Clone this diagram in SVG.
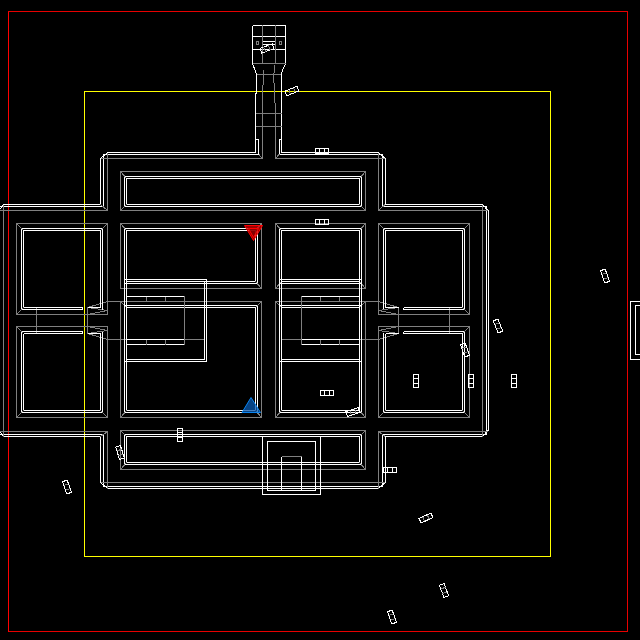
<svg xmlns="http://www.w3.org/2000/svg" width="640" height="640" viewBox="0 0 640 640" shape-rendering="crispEdges">
<style>
.w{fill:none;stroke:#fff;stroke-width:1}
.g{fill:none;stroke:#808080;stroke-width:1}
</style>
<defs>
<g id="car"><rect class="w" x="-2.500" y="-6.500" width="5" height="13"/><path class="w" d="M-2.500-2.500H2.500M-2.500 2.500H2.500"/></g>
<g id="car-r"><rect class="w" x="-2.500" y="-6.500" width="5" height="13"/><path class="g" d="M-2.500-2.500H2.500M-2.500 2.500H2.500"/></g>
</defs>
<rect width="640" height="640" fill="#000"/>
<g id="bounds">
<path d="M8.500 631.500V11.500H627.500V631.500H8.500" fill="none" stroke="#e80000"/>
<path d="M8.500 631.500V11.500" fill="none" stroke="#f00"/>
<rect x="84.500" y="91.500" width="466" height="465" fill="none" stroke="#ff0"/>
</g>
<g id="connectors">
<g id="tower">
<path class="w" d="M252.500 25.500H285.500V63.500L281 74V93.500H281.500V152.500M252.500 25.500V63.500L256.500 74V93.500H255.500V152.500"/>
<path class="w" d="M252.500 36.500H285.500M252.500 49.500H285.500M262.500 41.500H275.500M262.500 44.500H275.500"/>
<path class="w" d="M255.500 139.500H258.500V154M281.500 139.500H279.500V154"/>
<path class="g" d="M252.500 63.500H285.500M256.500 74H281M255.500 113.500H281.500M255.500 126.500H281.500M262.500 25V63M263.500 70V85M262.500 85V158.500M258.500 154L262.500 158.500M275.500 25V63M274.500 65V73M273.500 73V83M274.500 83V103M275.500 103V158.500M279.500 154L275.500 158.500"/>
<rect class="g" x="256.500" y="41.500" width="2" height="3"/>
<rect class="g" x="279.500" y="41.500" width="2" height="3"/>
</g>
<g id="walls">
<path class="w" d="M3.500 204.500H100.500V158.500L107.500 152.500H255.500M281.500 152.500H378.500L385 158.500V204.500H482.500L488 210.500V430.500L482.500 436.500H385V482.500L378.500 488.500H107.500L100.500 482.500V436.500H3.500L0 431.500M3.500 204.500L0 209"/>
<path class="w" d="M0 206.500H103.500V154.500H258.500M279.500 154.500H382.500V206.500H486.500V434.500H382.500V486.500H103.500V434.500H0"/>
<path class="g" d="M3.500 204.500V436.500M0 210.500H107.500V152.500M100.500 158.500H262.500M275.500 158.500H385M378.500 152.500V210.500H488M482.500 204.500V436.500M0 431.500H107.500V488.500M100.500 482.500H385M378.500 488.500V431.500H488M107.500 210.500L100.500 204.500M378.500 210.500L385 204.500M107.500 431.500L100.500 436.500M378.500 431.500L385 436.500"/>
</g>
<g id="passages">
<path class="g" d="M36.500 307V333M87.500 307V333M87.500 307.500L107.500 301.500M87.500 307.500L107.500 310.500M87.500 314.500L107.500 310.500M87.500 326.500L107.500 330.500M87.500 333.500L107.500 330.500M87.500 333.500L107.500 339.500H204"/>
<path class="g" d="M449.500 307V333M398.500 307V333M398.500 307.500L378.500 301.500M398.500 307.500L378.500 310.500M398.500 314.500L378.500 310.500M398.500 326.500L378.500 330.500M398.500 333.500L378.500 330.500M398.500 333.500L378.500 339.500H281.500"/>
<path class="g" d="M107.500 301.500H121M365 301.500H378.500"/>
</g>
</g>
<g id="room-top"><rect class="g" x="120.500" y="171.500" width="245" height="39"/><rect class="w" x="124.500" y="176.500" width="237" height="30"/><rect class="w" x="126.500" y="178.500" width="233" height="26"/><path class="g" d="M120.500 171.500L126.500 178.500M365.500 171.500L359.500 178.500M120.500 210.500L126.500 204.500M365.500 210.500L359.500 204.500"/></g>
<g id="room-tl"><rect class="g" x="120.500" y="223.500" width="141" height="65"/><rect class="w" x="124.500" y="228.500" width="133" height="55"/><rect class="w" x="126.500" y="230.500" width="129" height="51"/><path class="g" d="M120.500 223.500L126.500 230.500M261.500 223.500L255.500 230.500M261.500 288.500L255.500 281.500"/></g>
<g id="room-tm"><rect class="g" x="275.500" y="223.500" width="90" height="65"/><rect class="w" x="279.500" y="228.500" width="82" height="55"/><rect class="w" x="281.500" y="230.500" width="78" height="51"/><path class="g" d="M275.500 223.500L281.500 230.500M365.500 223.500L359.500 230.500M275.500 288.500L281.500 281.500M365.500 288.500L359.500 281.500"/></g>
<g id="room-tr"><rect class="g" x="378.500" y="223.500" width="91" height="91"/><path class="w" d="M464.500 309.500H403.500V307.500M383.500 309V228.500H464.500V309.500M385.500 307.500V230.500H462.500V307.500H403.500M385.500 307.500H399"/><path class="g" d="M378.500 223.500L385.500 230.500M469.500 223.500L462.500 230.500M469.500 314.500L462.500 307.500"/></g>
<g id="room-l1"><rect class="g" x="16.500" y="223.500" width="91" height="91"/><path class="w" d="M82.500 309.500H21.500V228.500H102.500V309.500M23.500 307.500V230.500H100.500V307.500H87.500M23.500 307.500H82.500V309.500"/><path class="g" d="M16.500 223.500L23.500 230.500M107.500 223.500L100.500 230.500M16.500 314.500L23.500 307.500"/></g>
<g id="room-l2"><rect class="g" x="16.500" y="326.500" width="91" height="91"/><path class="w" d="M82.500 331.500H21.500V412.500H102.500V331.500M23.500 333.500V410.500H100.500V333.500H87.500M23.500 333.500H82.500V331.500"/><path class="g" d="M16.500 326.500L23.500 333.500M16.500 417.500L23.500 410.500M107.500 417.500L100.500 410.500"/></g>
<g id="room-m"><rect class="g" x="120.500" y="301.500" width="141" height="116"/><rect class="w" x="124.500" y="305.500" width="133" height="107"/><rect class="w" x="126.500" y="307.500" width="129" height="103"/><path class="g" d="M120.500 301.500L126.500 307.500M261.500 301.500L255.500 307.500M120.500 417.500L126.500 410.500M261.500 417.500L255.500 410.500"/></g>
<g id="room-mm"><rect class="g" x="275.500" y="301.500" width="90" height="116"/><rect class="w" x="279.500" y="305.500" width="82" height="107"/><rect class="w" x="281.500" y="307.500" width="78" height="103"/><path class="g" d="M275.500 301.500L281.500 307.500M365.500 301.500L359.500 307.500M275.500 417.500L281.500 410.500M365.500 417.500L359.500 410.500"/></g>
<g id="room-r"><rect class="g" x="378.500" y="326.500" width="91" height="91"/><path class="w" d="M403.500 331.500H464.500V412.500H383.500V333M385.500 333.500V410.500H462.500V333.500H403.500V331.500M385.500 333.500H399"/><path class="g" d="M469.500 326.500L462.500 333.500M378.500 417.500L385.500 410.500M469.500 417.500L462.500 410.500"/></g>
<g id="room-b"><rect class="g" x="120.500" y="430.500" width="245" height="39"/><rect class="w" x="124.500" y="434.500" width="237" height="30"/><rect class="w" x="126.500" y="436.500" width="233" height="26"/><path class="g" d="M120.500 430.500L126.500 436.500M365.500 430.500L359.500 436.500M120.500 469.500L126.500 462.500M365.500 469.500L359.500 462.500"/></g>
<g id="overlay-left">
<rect class="w" x="124.500" y="279.500" width="82" height="82"/><rect class="w" x="126.500" y="281.500" width="78" height="78"/>
<path class="w" d="M126.500 296.500H184.500M126.500 339.500H184.500M126.500 344.500H184.500"/>
<path class="g" d="M184.500 296V345M146.500 296.500V301.500M165.500 296.500V301.500M146.500 339.500V344.500M165.500 339.500V344.500"/>
</g>
<g id="overlay-right">
<rect class="w" x="279.500" y="279.500" width="82" height="82"/><rect class="w" x="281.500" y="281.500" width="78" height="78"/>
<path class="w" d="M301.500 296.500H359.500M301.500 339.500H359.500M301.500 344.500H359.500"/>
<path class="g" d="M301.500 296V345M320.500 296.500V301.500M339.500 296.500V301.500M320.500 339.500V344.500M339.500 339.500V344.500"/>
</g>
<g id="gate">
<rect class="w" x="262.500" y="436.500" width="58" height="58"/>
<rect class="w" x="267.500" y="441.500" width="48" height="49"/>
<path class="w" d="M281.500 490V456.500M301.500 490V456.500"/>
<path class="g" d="M281.500 456.500H301.500"/>
</g>
<g id="marker-red" shape-rendering="auto">
<path d="M244.500 225.500H262.500L253.500 240.500Z" fill="#d00000" fill-opacity=".75" stroke="#f00"/>
<path d="M248.500 228.500H258.500L253.500 237.500Z" fill="#800000" fill-opacity=".75" stroke="#f00"/>
</g>
<g id="marker-blue" shape-rendering="auto">
<path d="M242 412.500L251 397.500L260.500 412.500Z" fill="#0a5ab0" fill-opacity=".75" stroke="#0a84f0"/>
</g>
<g id="cars">
<use href="#car-r" transform="translate(267 48.500) rotate(70)"/>
<use href="#car-r" transform="translate(292 91) rotate(69)"/>
<use href="#car" transform="translate(322 151) rotate(90)"/>
<use href="#car" transform="translate(322 222) rotate(90)"/>
<use href="#car-r" transform="translate(605 276) rotate(-20)"/>
<use href="#car-r" transform="translate(498 326) rotate(-22)"/>
<use href="#car-r" transform="translate(465 350) rotate(-20)"/>
<use href="#car" transform="translate(416 381)"/>
<use href="#car" transform="translate(471 381)"/>
<use href="#car" transform="translate(514 381)"/>
<use href="#car" transform="translate(327 393) rotate(90)"/>
<use href="#car-r" transform="translate(353 412) rotate(72)"/>
<use href="#car" transform="translate(180 435)"/>
<use href="#car-r" transform="translate(120 452.500) rotate(-18)"/>
<use href="#car-r" transform="translate(67 487) rotate(-20)"/>
<use href="#car" transform="translate(390 470) rotate(90)"/>
<use href="#car-r" transform="translate(426 518) rotate(65)"/>
<use href="#car-r" transform="translate(444 590.500) rotate(-20)"/>
<use href="#car-r" transform="translate(392 617) rotate(-20)"/>
</g>
<g id="side">
<rect class="w" x="630.500" y="301.500" width="14" height="58"/>
<rect class="w" x="635.500" y="305.500" width="10" height="49"/>
</g>
</svg>
